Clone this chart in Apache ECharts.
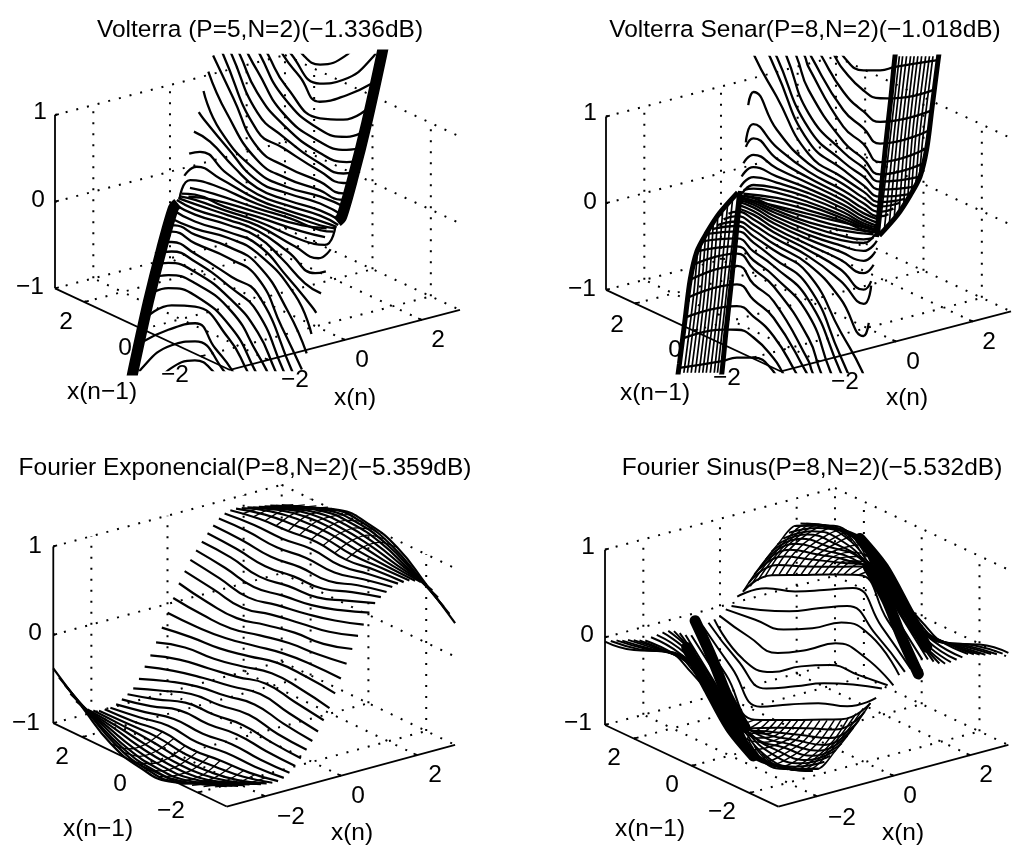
<!DOCTYPE html>
<html>
<head>
<meta charset="utf-8">
<style>html,body{margin:0;padding:0;background:#fff}#chart{width:1014px;height:847px}</style>
<script src="https://cdn.jsdelivr.net/npm/echarts@6/dist/echarts.min.js"></script>
</head>
<body>
<div id="chart"></div>
<script>
// each row: x(n), then pairs of x(n-1), z
const volterraRows = [
[2.25, 1.73,1.5, 1.39,1.34, .81,1.32, -.09,1.57, -.44,1.8],
[2.125, 1.91,1.48, 1.62,1.32, .65,1.14, -.15,1.31, -1.18,1.74, -1.41,1.97],
[2, 2.03,1.48, 1.74,1.31, 1.17,1.15, .49,.97, -.43,1.19, -1.29,1.46],
[1.875, 2.38,1.44, 2.09,1.27, 1.46,1, .32,.82, -.48,.93, -1.33,1.2],
[1.75, 2.5,1.43, 2.21,1.27, 1.41,.91, .16,.73, -.76,.79, -1.44,.98],
[1.625, 2.74,1.41, 2.45,1.25, 2.14,1.11, 1.25,.76, 0,.63, -.92,.68, -1.55,.82],
[1.5, 2.86,1.41, 2.57,1.24, 1.98,.9, 1.09,.67, -.17,.54, -1.09,.58, -1.6,.68],
[1.375, 2.98,1.4, 2.69,1.24, 1.81,.71, .92,.57, -.34,.46, -1.14,.47, -1.71,.58],
[1.25, 3,1.36, 2.81,1.23, 1.65,.54, .76,.48, -.5,.41, -1.3,.4, -1.76,.47],
[1.125, 3,1.21, 2.31,.83, 1.48,.39, .48,.32, -.66,.33, -1.46,.32, -1.83,.38],
[1, 3,1.04, 2.37,.66, 1.32,.28, .31,.23, -.83,.27, -1.51,.27, -1.91,.33],
[.875, 3,.83, 2.44,.47, 1.16,.19, .15,.17, -.99,.24, -1.91,.25],
[.75, 3,.6, 2.84,.55, 2.04,.35, .99,.125, -.01,.14, -1.16,.2, -2.01,.18],
[.625, 3,.39, 2.45,.36, 1.65,.2, .83,.08, -.18,.1, -1.32,.16, -2.06,.15],
[.5, 3,.15, 2.63,.23, 1.71,.125, .66,.05, -.34,.08, -1.49,.14, -2.11,.13],
[.375, 3,-.09, 2.58,.08, 1.78,.07, .5,.03, -.51,.065, -1.65,.12, -2.22,.14],
[.25, 3,-.34, 2.64,-.07, 1.84,0, .33,.017, -.79,.066, -1.81,.108, -2.33,.154],
[.125, 2.48,-.12, 1.68,-.06, .17,.007, -.95,.067, -1.98,.094, -2.44,.147],
[0, 2.37,-.19, 1.51,-.09, 0,0, -1.51,.09, -2.37,.19],
[-.125, 2.44,-.15, 1.98,-.09, .95,-.07, -.17,-.01, -1.68,.06, -2.48,.12],
[-.25, 2.33,-.15, 1.81,-.11, .79,-.07, -.33,-.02, -1.84,0, -2.64,.07, -3,.34],
[-.375, 2.22,-.14, 1.65,-.12, .51,-.07, -.5,-.03, -1.78,-.07, -2.58,-.08, -3,.09],
[-.5, 2.11,-.13, 1.49,-.14, .34,-.08, -.66,-.05, -1.71,-.13, -2.63,-.23, -3,-.15],
[-.625, 2.06,-.15, 1.32,-.16, .18,-.1, -.83,-.08, -1.65,-.2, -2.45,-.36, -3,-.39],
[-.75, 2.01,-.18, 1.16,-.2, .01,-.14, -.99,-.13, -2.04,-.35, -2.84,-.55, -3,-.6],
[-.875, 1.91,-.25, .99,-.24, -.15,-.17, -1.16,-.19, -2.44,-.47, -3,-.83],
[-1, 1.91,-.33, 1.51,-.27, .83,-.27, -.31,-.23, -1.32,-.28, -2.37,-.66, -3,-1.04],
[-1.125, 1.83,-.38, 1.46,-.32, .66,-.33, -.48,-.32, -1.48,-.39, -2.31,-.83, -3,-1.21],
[-1.25, 1.76,-.47, 1.3,-.4, .5,-.41, -.76,-.48, -1.65,-.54, -2.81,-1.23, -3,-1.36],
[-1.375, 1.71,-.58, 1.14,-.47, .34,-.46, -.92,-.57, -1.81,-.71, -2.69,-1.24, -2.98,-1.4],
[-1.5, 1.6,-.68, 1.09,-.58, .17,-.54, -1.09,-.67, -1.98,-.9, -2.57,-1.24, -2.86,-1.41],
[-1.625, 1.55,-.82, .92,-.68, 0,-.63, -1.25,-.76, -2.14,-1.11, -2.45,-1.25, -2.74,-1.41],
[-1.75, 1.44,-.98, .76,-.79, -.16,-.73, -1.41,-.91, -2.21,-1.27, -2.5,-1.43],
[-1.875, 1.33,-1.2, .48,-.93, -.32,-.82, -1.46,-1, -2.09,-1.27, -2.38,-1.44],
[-2, 1.29,-1.46, .43,-1.19, -.49,-.97, -1.17,-1.15, -1.74,-1.31, -2.03,-1.48],
[-2.125, 1.41,-1.97, 1.18,-1.74, .15,-1.31, -.65,-1.14, -1.62,-1.32, -1.91,-1.48],
[-2.25, .44,-1.8, .09,-1.57, -.81,-1.32, -1.39,-1.34, -1.73,-1.5]
];
const volterraBands = [
[1, -1.42,0, -1.57,.08, -1.97,.61, -2.43,1.3, -2.94,2.16, -3.06,2.39],
[-1, 3.06,-2.39, 2.94,-2.16, 2.43,-1.3, 1.97,-.61, 1.57,-.08, 1.42,0]
];

const senarRows = [
[2, 1.63,1.5, 1.38,1.35, .74,1.31, .17,1.4, -.34,1.52, -1.86,1.84],
[1.9, 1.9,1.51, 1.59,1.35, 1.3,1.24, .61,1.11, .04,1.11, -.41,1.18, -1.81,1.5],
[1.8, 2.22,1.47, 1.91,1.31, 1.17,1.02, .48,.9, -.09,.87, -1.86,1.28],
[1.7, 2.43,1.45, 2.13,1.28, 1.04,.84, .35,.74, -.22,.65, -1.91,1.07],
[1.6, 2.53,1.45, 2.22,1.28, 2.1,1.18, .91,.68, .22,.59, -.35,.47, -1.95,.88],
[1.5, 2.69,1.43, 2.38,1.27, 1.97,.95, .77,.54, .09,.45, -.48,.36, -1.97,.72],
[1.4, 2.9,1.41, 2.59,1.25, 1.83,.71, .64,.45, -.05,.38, -.62,.31, -1.98,.58],
[1.3, 3.1,1.39, 2.79,1.22, 1.7,.57, .51,.37, -.18,.31, -.75,.25, -1.94,.47],
[1.2, 3.2,1.39, 2.9,1.22, 2.67,1.08, 1.57,.45, .38,.31, -.31,.24, -.88,.2, -1.9,.39],
[1.1, 3.42,1.33, 3.28,1.17, 2.54,.83, 1.44,.34, .25,.25, -.44,.2, -1.01,.17, -1.86,.34],
[1, 3.38,.61, 3.2,.79, 2.4,.48, 1.31,.26, .12,.21, -.57,.16, -1.14,.15, -1.82,.3],
[.9, 3.33,.2, 3.08,.45, 2.27,.31, 1.18,.2, -.01,.17, -.7,.13, -1.27,.12, -1.73,.23],
[.8, 3.2,.18, 2.94,.32, 2.14,.21, 1.05,.16, -.14,.14, -.83,.1, -1.4,.1, -1.69,.17],
[.7, 3.15,.01, 2.81,.16, 2,.13, .92,.13, -.27,.12, -.96,.08, -1.53,.09],
[.6, 3.08,-.12, 2.68,.05, 1.88,.07, .79,.1, -.4,.1, -1.09,.07, -1.66,.08],
[.5, 3,-.22, 2.54,-.03, 1.75,.03, .66,.08, -.53,.09, -1.22,.06, -1.8,.08],
[.4, 2.8,-.25, 2.41,-.09, 1.61,0, .52,.06, -.67,.08, -1.36,.06, -1.93,.09],
[.3, 2.62,-.17, 2.28,-.1, 1.48,-.02, .39,.04, -.8,.07, -1.49,.07, -2.06,.1],
[.2, 2.49,-.18, 1.35,-.05, .26,.03, -.93,.07, -1.62,.08, -2.19,.12],
[.1, 2.36,-.17, 1.22,-.06, .13,.01, -1.06,.07, -1.75,.08, -2.32,.14],
[0, 2.23,-.17, 1.09,-.08, 0,0, -1.09,.08, -2.23,.17],
[-.1, 2.32,-.14, 1.75,-.08, 1.06,-.07, -.13,-.01, -1.22,.06, -2.36,.17],
[-.2, 2.19,-.12, 1.62,-.08, .93,-.07, -.26,-.03, -1.35,.05, -2.49,.18],
[-.3, 2.06,-.1, 1.49,-.07, .8,-.07, -.39,-.04, -1.48,.02, -2.28,.1, -2.62,.17],
[-.4, 1.93,-.09, 1.36,-.06, .67,-.08, -.52,-.06, -1.61,0, -2.41,.09, -2.8,.25],
[-.5, 1.8,-.08, 1.22,-.06, .53,-.09, -.66,-.08, -1.75,-.03, -2.54,.03, -3,.22],
[-.6, 1.66,-.08, 1.09,-.07, .4,-.1, -.79,-.1, -1.88,-.07, -2.68,-.05, -3.08,.12],
[-.7, 1.53,-.09, .96,-.08, .27,-.12, -.92,-.13, -2,-.13, -2.81,-.16, -3.15,-.01],
[-.8, 1.69,-.17, 1.4,-.1, .83,-.1, .14,-.14, -1.05,-.16, -2.14,-.21, -2.94,-.32, -3.2,-.18],
[-.9, 1.73,-.23, 1.27,-.12, .7,-.13, .01,-.17, -1.18,-.2, -2.27,-.31, -3.08,-.45, -3.33,-.2],
[-1, 1.82,-.3, 1.14,-.15, .57,-.16, -.12,-.21, -1.31,-.26, -2.4,-.48, -3.2,-.79, -3.38,-.61],
[-1.1, 1.86,-.34, 1.01,-.17, .44,-.2, -.25,-.25, -1.44,-.34, -2.54,-.83, -3.28,-1.17, -3.42,-1.33],
[-1.2, 1.9,-.39, .88,-.2, .31,-.24, -.38,-.31, -1.57,-.45, -2.67,-1.08, -2.9,-1.22, -3.2,-1.39],
[-1.3, 1.94,-.47, .75,-.25, .18,-.31, -.51,-.37, -1.7,-.57, -2.79,-1.22, -3.1,-1.39],
[-1.4, 1.98,-.58, .62,-.31, .05,-.38, -.64,-.45, -1.83,-.71, -2.59,-1.25, -2.9,-1.41],
[-1.5, 1.97,-.72, .48,-.36, -.09,-.45, -.77,-.54, -1.97,-.95, -2.38,-1.27, -2.69,-1.43],
[-1.6, 1.95,-.88, .35,-.47, -.22,-.59, -.91,-.68, -2.1,-1.18, -2.22,-1.28, -2.53,-1.45],
[-1.7, 1.91,-1.07, .22,-.65, -.35,-.74, -1.04,-.84, -2.13,-1.28, -2.43,-1.45],
[-1.8, 1.86,-1.28, .09,-.87, -.48,-.9, -1.17,-1.02, -1.91,-1.31, -2.22,-1.47],
[-1.9, 1.81,-1.5, .41,-1.18, -.04,-1.11, -.61,-1.11, -1.3,-1.24, -1.59,-1.35, -1.9,-1.51],
[-2, 1.86,-1.84, .34,-1.52, -.17,-1.4, -.74,-1.31, -1.38,-1.35, -1.63,-1.5]
];
const senarHatch = [
[1, -1.11,-.16, -1.51,1.07, -1.86,2.17],
[1, -1.29,-.08, -1.63,1.09, -1.97,2.19],
[1, -1.46,.01, -1.75,1.11, -2.11,2.21],
[1, -1.63,.12, -1.88,1.13, -2.25,2.23],
[1, -1.8,.22, -2.01,1.15, -2.37,2.25],
[1, -1.95,.3, -2.13,1.17, -2.5,2.27],
[1, -2.09,.4, -2.26,1.19, -2.63,2.29],
[1, -2.22,.5, -2.38,1.21, -2.77,2.31],
[1, -2.37,.61, -2.51,1.23, -2.9,2.33],
[1, -2.49,.71, -2.63,1.25, -3.02,2.35],
[-1, 1.11,.16, 1.51,-1.07, 1.86,-2.17],
[-1, 1.29,.08, 1.63,-1.09, 1.97,-2.19],
[-1, 1.46,-.01, 1.75,-1.11, 2.11,-2.21],
[-1, 1.63,-.12, 1.88,-1.13, 2.25,-2.23],
[-1, 1.8,-.22, 2.01,-1.15, 2.37,-2.25],
[-1, 1.95,-.3, 2.13,-1.17, 2.5,-2.27],
[-1, 2.09,-.4, 2.26,-1.19, 2.63,-2.29],
[-1, 2.22,-.5, 2.38,-1.21, 2.77,-2.31],
[-1, 2.37,-.61, 2.51,-1.23, 2.9,-2.33],
[-1, 2.49,-.71, 2.63,-1.25, 3.02,-2.35]
];
const senarEdges = [
[1, -1.02,-.22, -1.32,.85, -1.51,1.46, -1.65,1.96, -1.74,2.19],
[1, -1.11,-.19, -1.74,.15, -2.17,.44, -2.51,.71, -2.74,1.07, -2.91,1.54, -3.11,2.1, -3.23,2.42],
[-1, 1.74,-2.19, 1.65,-1.96, 1.51,-1.46, 1.32,-.85, 1.02,.22],
[-1, 3.23,-2.42, 3.11,-2.1, 2.91,-1.54, 2.74,-1.07, 2.51,-.71, 2.17,-.44, 1.74,-.15, 1.11,.19]
];

const gridXp = [3, 2, 1, 0, -1, -2, -3];
const gridXn = [-3,-2.85,-2.7,-2.55,-2.4,-2.25,-2.1,-1.95,-1.8,-1.65,-1.5,-1.35,-1.2,-1.05,-.9,-.75,-.6,-.45,-.3,-.15,0,.15,.3,.45,.6,.75,.9,1.05,1.2,1.35,1.5,1.65,1.8,1.95,2.1,2.25,2.4,2.55,2.7,2.85,3];

const fourierExpZ = [
[-.38,-.66,-.92,-1.03,-1.03,-.9,-.77],
[-.5,-.74,-.96,-1.06,-1.05,-.92,-.78],
[-.6,-.82,-1,-1.08,-1.06,-.94,-.8],
[-.72,-.88,-1.03,-1.09,-1.07,-.95,-.81],
[-.82,-.93,-1.04,-1.09,-1.07,-.96,-.82],
[-.9,-.96,-1.04,-1.08,-1.07,-.97,-.83],
[-.95,-.98,-1.03,-1.07,-1.06,-.98,-.85],
[-.98,-.99,-1.01,-1.05,-1.04,-.98,-.86],
[-1,-.99,-.98,-1.02,-1,-.96,-.87],
[-1,-.98,-.94,-.98,-.95,-.93,-.87],
[-1,-.95,-.89,-.92,-.88,-.88,-.85],
[-.98,-.91,-.83,-.84,-.8,-.82,-.81],
[-.94,-.86,-.75,-.75,-.71,-.74,-.75],
[-.9,-.8,-.68,-.66,-.62,-.66,-.68],
[-.85,-.72,-.6,-.57,-.52,-.58,-.6],
[-.76,-.63,-.53,-.48,-.42,-.48,-.52],
[-.64,-.53,-.45,-.39,-.32,-.38,-.43],
[-.53,-.42,-.36,-.3,-.22,-.27,-.32],
[-.4,-.3,-.27,-.2,-.12,-.14,-.2],
[-.25,-.2,-.17,-.1,-.02,-.02,-.05],
[-.1,-.1,-.07,0,.07,.1,.1],
[.05,.02,.02,.1,.17,.2,.25],
[.2,.14,.12,.2,.27,.3,.4],
[.32,.27,.22,.3,.36,.42,.53],
[.43,.38,.32,.39,.45,.53,.64],
[.52,.48,.42,.48,.53,.63,.76],
[.6,.58,.52,.57,.6,.72,.85],
[.68,.66,.62,.66,.68,.8,.9],
[.75,.74,.71,.75,.75,.86,.94],
[.81,.82,.8,.84,.83,.91,.98],
[.85,.88,.88,.92,.89,.95,1],
[.87,.93,.95,.98,.94,.98,1],
[.87,.96,1,1.02,.98,.99,1],
[.86,.98,1.04,1.05,1.01,.99,.98],
[.85,.98,1.06,1.07,1.03,.98,.95],
[.83,.97,1.07,1.08,1.04,.96,.9],
[.82,.96,1.07,1.09,1.04,.93,.82],
[.81,.95,1.07,1.09,1.03,.88,.72],
[.8,.94,1.06,1.08,1,.82,.6],
[.78,.92,1.05,1.06,.96,.74,.5],
[.77,.9,1.03,1.03,.92,.66,.38]
];
const expCrossXn = [1.65, 2.1, 2.55, 3];
const expCrossXp = [2.6, 2.2, 1.8, 1.4, 1, .6, .2, -.2, -.6, -1];
const expCrossZ = [
[.89,.9,.87,.84],[.92,.96,.93,.9],[.94,1,.98,.95],[.95,1.03,1.03,1],[.95,1.06,1.07,1.03],
[.97,1.07,1.08,1.04],[.98,1.07,1.09,1.03],[.97,1.06,1.07,1],[.95,1.04,1.05,.95],[.94,1.03,1.03,.92]
];

const fourierSinZ = [
[-.05,.01,.15,.06,-.22,-.56,-.54],
[-.06,0,.12,.01,-.3,-.6,-.57],
[-.07,-.01,.09,-.05,-.38,-.65,-.59],
[-.09,-.03,.05,-.12,-.48,-.7,-.62],
[-.1,-.05,0,-.22,-.6,-.74,-.65],
[-.12,-.08,-.08,-.33,-.72,-.78,-.68],
[-.14,-.12,-.15,-.42,-.82,-.82,-.7],
[-.16,-.16,-.25,-.53,-.89,-.85,-.69],
[-.14,-.17,-.33,-.63,-.88,-.84,-.63],
[-.13,-.19,-.42,-.72,-.87,-.82,-.58],
[-.12,-.22,-.54,-.8,-.85,-.8,-.53],
[-.12,-.27,-.65,-.87,-.83,-.77,-.47],
[-.14,-.38,-.77,-.87,-.81,-.73,-.4],
[-.18,-.5,-.88,-.87,-.78,-.68,-.33],
[-.22,-.6,-.98,-.86,-.74,-.62,-.26],
[-.24,-.61,-.99,-.83,-.68,-.54,-.18],
[-.21,-.55,-.91,-.76,-.6,-.44,-.1],
[-.17,-.49,-.78,-.6,-.43,-.31,-.06],
[-.15,-.42,-.59,-.41,-.22,-.08,.03],
[-.13,-.43,-.42,-.2,-.03,.01,.05],
[-.11,-.19,-.22,-.03,.2,.2,.03],
[-.05,-.01,.03,.2,.42,.43,.13],
[-.03,.08,.22,.41,.59,.42,.15],
[.06,.31,.43,.6,.78,.49,.17],
[.1,.44,.6,.76,.91,.55,.21],
[.18,.54,.68,.83,.99,.61,.24],
[.26,.62,.74,.86,.98,.6,.22],
[.33,.68,.78,.87,.88,.5,.18],
[.4,.73,.81,.87,.77,.38,.14],
[.47,.77,.83,.87,.65,.27,.12],
[.53,.8,.85,.8,.54,.22,.12],
[.58,.82,.87,.72,.42,.19,.13],
[.63,.84,.88,.63,.33,.17,.14],
[.69,.85,.89,.53,.25,.16,.16],
[.7,.82,.82,.42,.15,.12,.14],
[.68,.78,.72,.33,.08,.08,.12],
[.65,.74,.6,.22,0,.05,.1],
[.62,.7,.48,.12,-.05,.03,.09],
[.59,.65,.38,.05,-.09,.01,.07],
[.57,.6,.3,-.01,-.12,0,.06],
[.54,.56,.22,-.06,-.15,-.01,.05]
];
const sinCrossXn = [.6, 1, 1.5, 2, 2.5];
const sinCrossXp = [3,2.75,2.5,2.25,2,1.75,1.5,1.25,1,.75,.5,.25,0,-.25,-.5,-.75,-1];
const sinCrossZ = [
[.1,.31,.53,.69,.63],[.2,.4,.6,.73,.66],[.3,.5,.68,.78,.68],[.38,.6,.75,.82,.7],[.44,.66,.8,.85,.7],
[.49,.69,.82,.86,.65],[.53,.72,.83,.87,.6],[.57,.75,.84,.88,.54],[.6,.77,.85,.89,.48],[.64,.8,.84,.82,.4],
[.68,.82,.83,.72,.3],[.72,.85,.82,.62,.2],[.76,.87,.8,.53,.12],[.8,.9,.74,.45,.08],[.84,.92,.68,.39,.03],
[.88,.93,.6,.32,-.01],[.91,.92,.54,.25,-.05]
];
const sinRidges = [
[2, .81,.88, 0,.68, -.75,.35, -1.5,0],
[2, .52,.6, -.12,.32, -.63,-.02, -1.21,-.35],
[-2, 1.5,0, .75,-.35, 0,-.68, -.81,-.88],
[-2, 1.21,.35, .63,.02, .12,-.32, -.52,-.6]
];

const ticks = [-2, 0, 2];
const zTicks = [-1, 0, 1];
const titles = ['Volterra (P=5,N=2)(−1.336dB)', 'Volterra Senar(P=8,N=2)(−1.018dB)', 'Fourier Exponencial(P=8,N=2)(−5.359dB)', 'Fourier Sinus(P=8,N=2)(−5.532dB)'];
const zLabels = ['1', '0', '−1'];
const xpLabels = ['2', '0', '−2'];
const xnLabels = ['−2', '0', '2'];

// view of each panel, and the pixel spots of its text
const views = [
    {ox: 257.5, oy: 212.5, ax: 38.33, ay: -10, bx: -29.17, by: -13.6, zs: 86.67, box: [20, 55, 470, 315],
     title: [260, 30], z: [[40, 112], [38, 200], [30, 287]], xp: [[66, 322], [125, 348], [175, 375]], xn: [[295, 380], [362, 360], [438, 340]], lp: [102, 392], ln: [355, 398]},
    {ox: 808.5, oy: 214, ax: 38.33, ay: -10, bx: -29.17, by: -13.6, zs: 86.67, box: [560, 57, 454, 315],
     title: [805, 30], z: [[590, 113], [590, 202], [582, 289]], xp: [[617, 325], [675, 350], [727, 378]], xn: [[845, 382], [913, 362], [989, 342]], lp: [655, 393], ln: [907, 398]},
    {ox: 254.2, oy: 645.7, ax: 38.07, ay: -10.27, bx: -28.9, by: -13.9, zs: 88.33, box: [20, 480, 470, 340],
     title: [245, 468], z: [[35, 546], [35, 633], [26, 723]], xp: [[62, 757], [120, 784], [171, 811]], xn: [[291, 817], [358, 796], [435, 775]], lp: [98, 829], ln: [352, 833]},
    {ox: 806.7, oy: 647.3, ax: 38.33, ay: -10.27, bx: -28.9, by: -13.6, zs: 87.67, box: [560, 480, 454, 340],
     title: [812, 468], z: [[588, 547], [587, 635], [578, 723]], xp: [[614, 758], [672, 785], [722, 812]], xn: [[842, 818], [910, 796], [986, 775]], lp: [650, 829], ln: [903, 833]}
];

const project = (v, xn, xp, z) => [v.ox + v.ax * xn + v.bx * xp, v.oy + v.ay * xn + v.by * xp - v.zs * z];

const series = [];

function addLine(p, pts, opt) {
    series.push({
        type: 'line',
        xAxisIndex: p,
        yAxisIndex: p,
        data: pts,
        silent: true,
        animation: false,
        showSymbol: false,
        symbol: 'none',
        smooth: opt.smooth ? opt.smooth : false,
        clip: opt.clip !== false,
        lineStyle: {color: '#000', width: opt.width, type: opt.type || 'solid', cap: opt.cap || 'butt'}
    });
}

function addFrame(p) {
    const v = views[p];
    const dots = {width: 2, type: [2, 9], clip: false};
    const line = (a, b, o) => addLine(p, [project(v, a[0], a[1], a[2]), project(v, b[0], b[1], b[2])], o);
    for (const z of zTicks) {
        line([-3, 3, z], [3, 3, z], dots);
        line([3, 3, z], [3, -3, z], dots);
    }
    for (const t of ticks) {
        line([t, 3, -1], [t, 3, 1], dots);
        line([3, t, -1], [3, t, 1], dots);
        line([t, -3, -1], [t, 3, -1], dots);
        line([-3, t, -1], [3, t, -1], dots);
    }
    line([3, 3, -1], [3, 3, 1], dots);
    const solid = {width: 1.8, clip: false};
    line([-3, 3, -1], [-3, 3, 1], solid);
    line([-3, 3, -1], [-3, -3, -1], solid);
    line([-3, -3, -1], [3, -3, -1], solid);
    for (const z of zTicks) {
        line([-3, 3, z], [-2.9, 3, z], solid);
    }
    for (const t of ticks) {
        line([t, -3, -1], [t, -2.88, -1], solid);
        line([-3, t, -1], [-2.88, t, -1], solid);
    }
}

function addRows(p, rows, width, smooth, cap) {
    const v = views[p];
    for (const row of rows) {
        const pts = [];
        for (let i = 1; i < row.length; i += 2) {
            pts.push(project(v, row[0], row[i], row[i + 1]));
        }
        addLine(p, pts, {width: width, smooth: smooth, cap: cap});
    }
}

function addTable(p, xns, xps, table, width) {
    const v = views[p];
    table.forEach((r, i) => {
        addLine(p, r.map((z, j) => project(v, xns[i], xps[j], z)), {width: width, smooth: 0.5});
    });
}

// cross lines of the mesh: the read values, and the matching opposite hump
function addCross(p, xns, xps, table, width) {
    const v = views[p];
    table.forEach((r, i) => {
        addLine(p, r.map((z, j) => project(v, xns[j], xps[i], z)), {width: width, smooth: 0.3});
        addLine(p, r.map((z, j) => project(v, -xns[j], -xps[i], -z)), {width: width, smooth: 0.3});
    });
}

views.forEach((v, p) => addFrame(p));

addRows(0, volterraRows, 2.3, 0.5);
addRows(0, volterraBands, 11, 0.3);

addRows(1, senarRows, 2.3, 0.5);
addRows(1, senarHatch, 1.7, 0.3);
addRows(1, senarEdges, 5, 0.3);

addTable(2, gridXn, gridXp, fourierExpZ, 2.2);
addCross(2, expCrossXn, expCrossXp, expCrossZ, 1.3);

addTable(3, gridXn, gridXp, fourierSinZ, 2);
addCross(3, sinCrossXn, sinCrossXp, sinCrossZ, 1.5);
addRows(3, sinRidges, 11, 0.3, 'round');

const graphic = [];
function addText(text, pos) {
    graphic.push({
        type: 'text',
        x: pos[0],
        y: pos[1],
        silent: true,
        style: {text: text, fill: '#000', font: '24.5px "Liberation Sans"', textAlign: 'center', textVerticalAlign: 'middle', align: 'center', verticalAlign: 'middle'}
    });
}
views.forEach((v, p) => {
    addText(titles[p], v.title);
    zLabels.forEach((t, i) => addText(t, v.z[i]));
    xpLabels.forEach((t, i) => addText(t, v.xp[i]));
    xnLabels.forEach((t, i) => addText(t, v.xn[i]));
    addText('x(n−1)', v.lp);
    addText('x(n)', v.ln);
});

const chart = echarts.init(document.getElementById('chart'));
chart.setOption({
    backgroundColor: '#fff',
    animation: false,
    grid: views.map(v => ({left: v.box[0], top: v.box[1], width: v.box[2], height: v.box[3], containLabel: false})),
    xAxis: views.map((v, i) => ({type: 'value', gridIndex: i, show: false, min: v.box[0], max: v.box[0] + v.box[2]})),
    yAxis: views.map((v, i) => ({type: 'value', gridIndex: i, show: false, inverse: true, min: v.box[1], max: v.box[1] + v.box[3]})),
    series: series,
    graphic: graphic
});
window.addEventListener('resize', function() {
    chart.resize();
});
</script>
</body>
</html>
